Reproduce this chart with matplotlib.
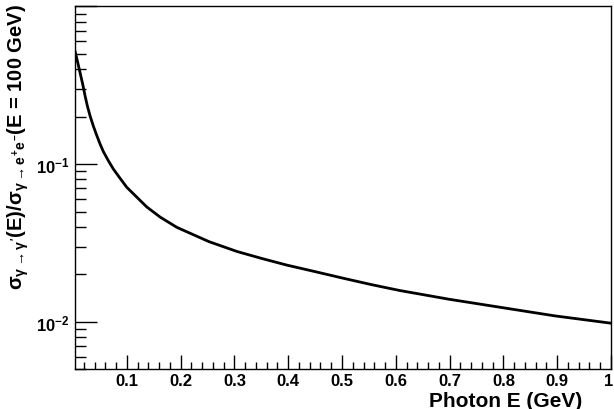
import math
import matplotlib
matplotlib.use("Agg")
import matplotlib.pyplot as plt
import matplotlib.transforms as mtransforms
from matplotlib.ticker import FixedLocator, FuncFormatter, LogLocator, NullFormatter, MultipleLocator

plt.rcParams['font.family'] = ['Liberation Sans', 'DejaVu Sans']
plt.rcParams['font.weight'] = 'bold'
plt.rcParams['mathtext.fontset'] = 'custom'
plt.rcParams['mathtext.rm'] = 'Liberation Sans:bold'
plt.rcParams['mathtext.bf'] = 'Liberation Sans:bold'
plt.rcParams['mathtext.it'] = 'Liberation Sans:bold'
plt.rcParams['mathtext.sf'] = 'Liberation Sans:bold'

# Photon energy (GeV) and cross-section ratio
energy = [0.0037, 0.008, 0.013, 0.018, 0.0223, 0.0266, 0.0317, 0.0378, 0.0441,
          0.0503, 0.0564, 0.0657, 0.075, 0.0875, 0.1, 0.137, 0.162, 0.193,
          0.253, 0.305, 0.351, 0.397, 0.45, 0.502, 0.555, 0.607, 0.699,
          0.798, 0.896, 1.0]
ratio = [0.52, 0.452, 0.381, 0.321, 0.272, 0.234, 0.202, 0.174, 0.152,
         0.134, 0.120, 0.105, 0.093, 0.0812, 0.0712, 0.0535, 0.0461, 0.0397,
         0.0322, 0.0279, 0.0252, 0.0229, 0.0208, 0.0189, 0.0172, 0.0158, 0.0139,
         0.0123, 0.0109, 0.0098]
x_ticks = [0.1, 0.2, 0.3, 0.4, 0.5, 0.6, 0.7, 0.8, 0.9, 1.0]
x_tick_labels = ["0.1", "0.2", "0.3", "0.4", "0.5", "0.6", "0.7", "0.8", "0.9", "1"]

fig = plt.figure(figsize=(6.14, 4.10), dpi=100)
ax = fig.add_axes([75/614, 1-370.3/410, (611-75)/614, (370.3-7.3)/410])

ax.plot(energy, ratio, color='black', lw=2.0, solid_joinstyle='round', solid_capstyle='round')
ax.set_yscale('log')
ax.set_xlim(0.0037, 1.0)
ax.set_ylim(0.005, 1.0)

ax.xaxis.set_major_locator(FixedLocator(x_ticks))
ax.set_xticklabels(x_tick_labels)
ax.xaxis.set_minor_locator(MultipleLocator(0.02))
ax.yaxis.set_major_locator(LogLocator(base=10, numticks=10))
ax.yaxis.set_minor_locator(LogLocator(base=10, subs=[2, 3, 4, 5, 6, 7, 8, 9], numticks=10))
ax.yaxis.set_minor_formatter(NullFormatter())

def yfmt(v, pos):
    e = int(round(math.log10(v)))
    if e in (-1, -2):
        return r'$\mathbf{10^{%d}}$' % e
    return ''
ax.yaxis.set_major_formatter(FuncFormatter(yfmt))

ax.tick_params(axis='both', which='both', direction='in', top=False, right=False, width=1.0, color='black')
ax.tick_params(axis='x', which='major', length=10, labelsize=12, pad=3)
ax.tick_params(axis='x', which='minor', length=5)
ax.tick_params(axis='y', which='major', length=16, labelsize=12, pad=4)
ax.tick_params(axis='y', which='minor', length=8)
xlabels = ax.get_xticklabels()
for lab in xlabels + ax.get_yticklabels():
    lab.set_fontweight('bold')
# nudge the last "1" label slightly left so it stays inside the canvas
xlabels[-1].set_transform(xlabels[-1].get_transform() +
                          mtransforms.ScaledTranslation(-2/100, 0, fig.dpi_scale_trans))
for s in ax.spines.values():
    s.set_linewidth(1.0)

ax.set_xlabel('Photon E (GeV)', fontsize=15, fontweight='bold', loc='right')
ax.xaxis.set_label_coords(0.946, -0.086)
ax.xaxis.label.set_va('center')

ax.set_ylabel(r'$\mathrm{\sigma}_{\gamma\rightarrow\gamma^{\prime}}$(E)/$\mathrm{\sigma}_{\gamma\rightarrow e^{+}e^{-}}$(E = 100 GeV)',
              fontsize=14.5, fontweight='bold', loc='top')
ax.yaxis.set_label_coords(-0.106, 1.01)
ax.yaxis.label.set_va('center')

fig.savefig('out.png', dpi=100, facecolor='white')
